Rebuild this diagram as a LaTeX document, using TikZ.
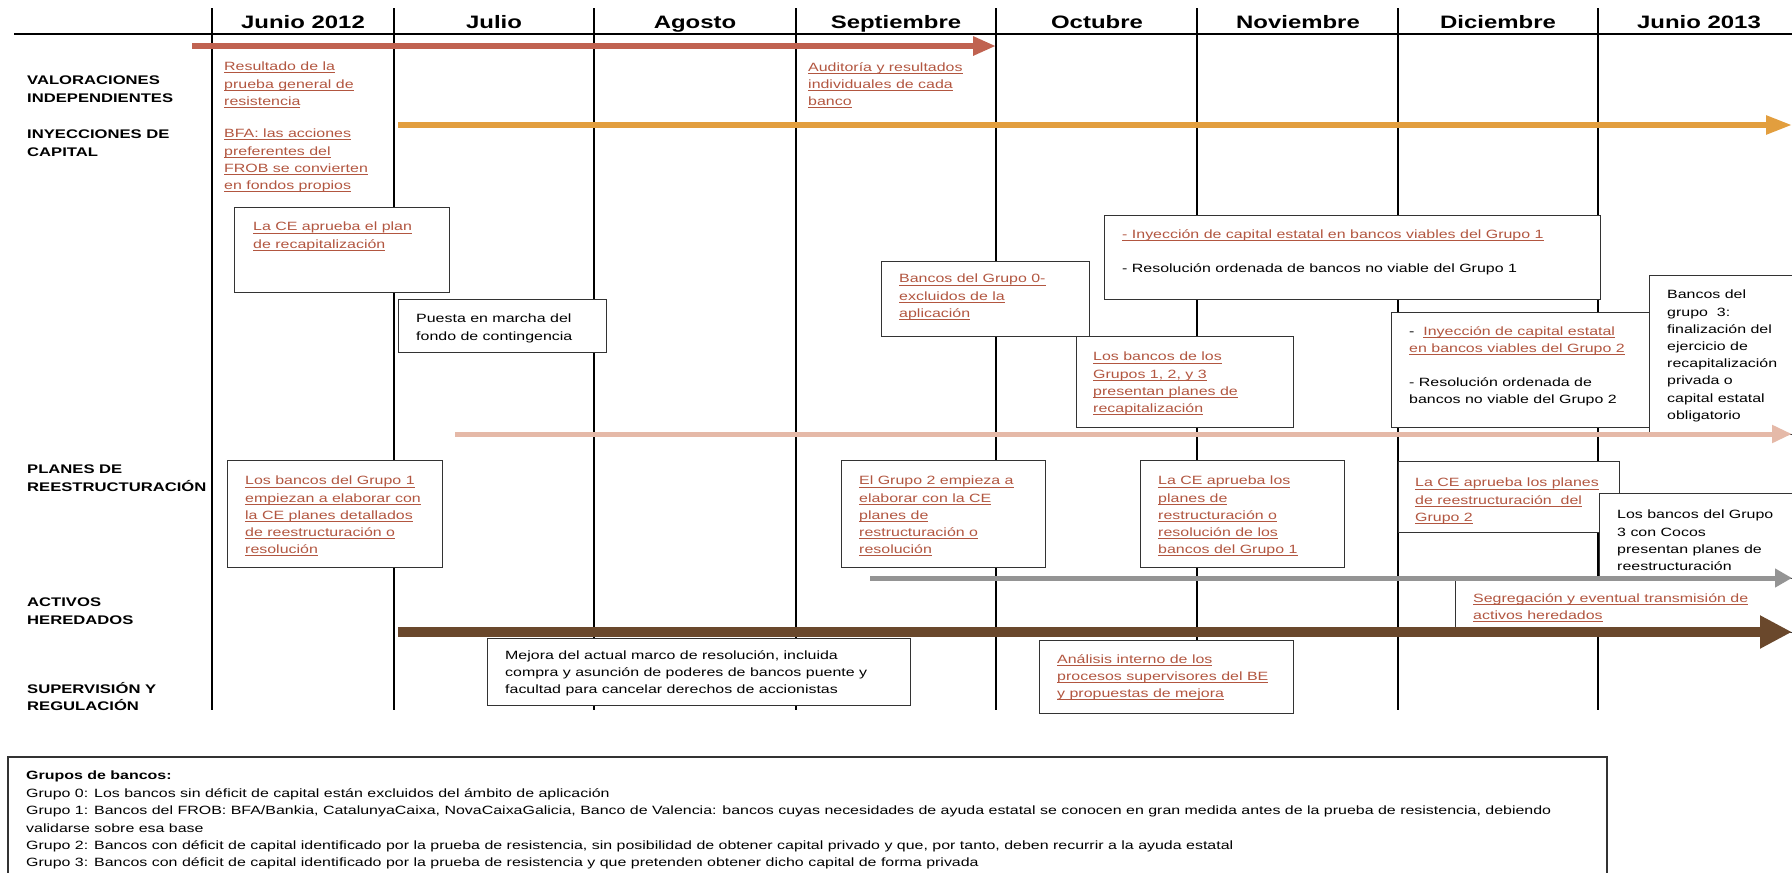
\documentclass[tikz,border=0pt]{standalone}
\usepackage{fontspec}
\setmainfont{Liberation Sans}[FakeStretch=1.33]
\usepackage{xcolor}
\usetikzlibrary{positioning, arrows.meta}
\definecolor{tlred}{RGB}{192, 98, 80}
\definecolor{tlorange}{RGB}{226, 158, 62}
\definecolor{tlpink}{RGB}{229, 185, 168}
\definecolor{tlgray}{RGB}{148, 148, 148}
\definecolor{tlbrown}{RGB}{106, 72, 44}
\definecolor{linkred}{RGB}{178, 86, 64}
\newsavebox{\lnkbox}
\newcommand{\lnk}[1]{{\color{linkred}\sbox{\lnkbox}{#1}\rlap{\rule[-2.4pt]{\wd\lnkbox}{0.8pt}}\usebox{\lnkbox}}}
\tikzset{
    gridline/.style={draw=black, line width=1.2pt},
    evbox/.style={draw=black!80, line width=1.3pt, fill=white, inner sep=0pt, anchor=north west},
    evtext/.style={inner sep=0pt, anchor=north west, align=left, yshift=-5pt, font=\fontsize{12}{17.2}\selectfont, execute at begin node=\strut},
    rowlabel/.style={evtext, font=\bfseries\fontsize{12.5}{17.5}\selectfont},
    month/.style={anchor=base, inner sep=0pt, font=\bfseries\fontsize{18}{20}\selectfont},
    valarrow/.style={tlred, line width=6pt, -{Triangle[length=23pt, width=18pt]}},
    capitalarrow/.style={tlorange, line width=5.5pt, -{Triangle[length=26pt, width=18pt]}},
    planarrow/.style={tlpink, line width=5pt, -{Triangle[length=20pt, width=17pt]}},
    activoarrow/.style={tlgray, line width=5pt, -{Triangle[length=17pt, width=18pt]}},
    supervarrow/.style={tlbrown, line width=10pt, -{Triangle[length=32pt, width=31pt]}}
}
\begin{document}
\begin{tikzpicture}[x=1pt, y=-1pt]
\useasboundingbox (0,0) rectangle (1792,873);
% header and month columns
\coordinate (headL) at (14,34);
\coordinate (headR) at (1792,34);
\draw[gridline, line width=1.5pt] (headL) -- (headR);
\foreach \lx in {212,394,594,796,996,1197,1398,1598}
    \draw[gridline] (\lx,8) -- (\lx,710);
\foreach \cx/\mname in {303/Junio 2012, 494/Julio, 695/Agosto, 896/Septiembre, 1097/Octubre, 1298/Noviembre, 1498/Diciembre, 1699/Junio 2013}
    \node[month] (m\cx) at (\cx,28) {\mname};

% row labels
\node[rowlabel] (valor) at (27,71) {VALORACIONES\\INDEPENDIENTES};
\node[rowlabel] (inyec) at (27,125) {INYECCIONES DE\\CAPITAL};
\node[rowlabel] (planes) at (27,460) {PLANES DE\\REESTRUCTURACIÓN};
\node[rowlabel] (activos) at (27,593) {ACTIVOS\\HEREDADOS};
\node[rowlabel] (superv) at (27,677) {SUPERVISIÓN Y\\REGULACIÓN};

% free texts
\node[evtext] (resul) at (224,57) {\lnk{Resultado de la}\\\lnk{prueba general de}\\\lnk{resistencia}};
\node[evtext] (bfa) at (224,124) {\lnk{BFA: las acciones}\\\lnk{preferentes del}\\\lnk{FROB se convierten}\\\lnk{en fondos propios}};
\node[evtext] (audit) at (808,57) {\lnk{Auditoría y resultados}\\\lnk{individuales de cada}\\\lnk{banco}};

% boxes
\node[evbox, minimum width=215pt, minimum height=85pt] (planCE) at (234,207) {};
\node[evtext, below right=10pt and 19pt of planCE.north west] (planCEtxt) {\lnk{La CE aprueba el plan}\\\lnk{de recapitalización}};

\node[evbox, minimum width=208pt, minimum height=53pt] (fondo) at (398,299) {};
\node[evtext, below right=10pt and 18pt of fondo.north west] (fondotxt) {Puesta en marcha del\\fondo de contingencia};

\node[evbox, minimum width=208pt, minimum height=75pt] (grupo0) at (881,261) {};
\node[evtext, below right=8pt and 18pt of grupo0.north west] (grupo0txt) {\lnk{Bancos del Grupo 0-}\\\lnk{excluidos de la}\\\lnk{aplicación}};

\node[evbox, minimum width=496pt, minimum height=84pt] (inyec1) at (1104,215) {};
\node[evtext, below right=9pt and 18pt of inyec1.north west] (inyec1txt) {\lnk{- Inyección de capital estatal en bancos viables del Grupo 1}\\[17.2pt]- Resolución ordenada de bancos no viable del Grupo 1};

\node[evbox, minimum width=217pt, minimum height=91pt] (recap) at (1076,336) {};
\node[evtext, below right=11pt and 17pt of recap.north west] (recaptxt) {\lnk{Los bancos de los}\\\lnk{Grupos 1, 2, y 3}\\\lnk{presentan planes de}\\\lnk{recapitalización}};

\node[evbox, minimum width=258pt, minimum height=115pt] (inyec2) at (1391,312) {};
\node[evtext, below right=9pt and 18pt of inyec2.north west] (inyec2txt) {-\ \ \lnk{Inyección de capital estatal}\\\lnk{en bancos viables del Grupo 2}\\[17.2pt]- Resolución ordenada de\\bancos no viable del Grupo 2};

\node[evbox, minimum width=160pt, minimum height=159pt] (grupo3fin) at (1649,275) {};
\node[evtext, below right=10pt and 18pt of grupo3fin.north west] (grupo3fintxt) {Bancos del\\grupo\ \ 3:\\finalización del\\ejercicio de\\recapitalización\\privada o\\capital estatal\\obligatorio};

\node[evbox, minimum width=215pt, minimum height=107pt] (elab1) at (227,460) {};
\node[evtext, below right=11pt and 18pt of elab1.north west] (elab1txt) {\lnk{Los bancos del Grupo 1}\\\lnk{empiezan a elaborar con}\\\lnk{la CE planes detallados}\\\lnk{de reestructuración o}\\\lnk{resolución}};

\node[evbox, minimum width=204pt, minimum height=107pt] (elab2) at (841,460) {};
\node[evtext, below right=11pt and 18pt of elab2.north west] (elab2txt) {\lnk{El Grupo 2 empieza a}\\\lnk{elaborar con la CE}\\\lnk{planes de}\\\lnk{restructuración o}\\\lnk{resolución}};

\node[evbox, minimum width=204pt, minimum height=107pt] (aprueba1) at (1140,460) {};
\node[evtext, below right=11pt and 18pt of aprueba1.north west] (aprueba1txt) {\lnk{La CE aprueba los}\\\lnk{planes de}\\\lnk{restructuración o}\\\lnk{resolución de los}\\\lnk{bancos del Grupo 1}};

\node[evbox, minimum width=221pt, minimum height=71pt] (aprueba2) at (1398,461) {};
\node[evtext, below right=12pt and 17pt of aprueba2.north west] (aprueba2txt) {\lnk{La CE aprueba los planes}\\\lnk{de reestructuración\ \ del}\\\lnk{Grupo 2}};

\node[evbox, minimum width=210pt, minimum height=85pt] (cocos) at (1599,493) {};
\node[evtext, below right=12pt and 18pt of cocos.north west] (cocostxt) {Los bancos del Grupo\\3 con Cocos\\presentan planes de\\reestructuración};

\node[evbox, minimum width=360pt, minimum height=54pt] (segreg) at (1455,578) {};
\node[evtext, below right=10pt and 18pt of segreg.north west] (segregtxt) {\lnk{Segregación y eventual transmisión de}\\\lnk{activos heredados}};

\node[evbox, minimum width=423pt, minimum height=67pt] (mejora) at (487,638) {};
\node[evtext, below right=7pt and 18pt of mejora.north west] (mejoratxt) {Mejora del actual marco de resolución, incluida\\compra y asunción de poderes de bancos puente y\\facultad para cancelar derechos de accionistas};

\node[evbox, minimum width=254pt, minimum height=73pt] (analisis) at (1039,640) {};
\node[evtext, below right=9pt and 18pt of analisis.north west] (analisistxt) {\lnk{Análisis interno de los}\\\lnk{procesos supervisores del BE}\\\lnk{y propuestas de mejora}};

% timeline arrows
\coordinate (valS) at (192,46);
\coordinate (valE) at (996,46);
\coordinate (capS) at (398,125);
\coordinate (capE) at (1792,125);
\coordinate (planS) at (455,434);
\coordinate (planE) at (1792,434);
\coordinate (actS) at (870,578);
\coordinate (actE) at (1792,578);
\coordinate (supS) at (398,632);
\coordinate (supE) at (1792,632);
\draw[valarrow] (valS) -- (valE);
\draw[capitalarrow] (capS) -- (capE);
\draw[planarrow] (planS) -- (planE);
\draw[activoarrow] (actS) -- (actE);
\draw[supervarrow] (supS) -- (supE);

% legend
\node[evbox, line width=1.5pt, minimum width=1599pt, minimum height=150pt] (legend) at (7,756) {};
\node[evtext, font=\fontsize{12}{17.4}\selectfont, below right=10pt and 19pt of legend.north west] (legendtxt) {\textbf{Grupos de bancos:}\\
Grupo 0: Los bancos sin déficit de capital están excluidos del ámbito de aplicación\\
Grupo 1: Bancos del FROB: BFA/Bankia, CatalunyaCaixa, NovaCaixaGalicia, Banco de Valencia: bancos cuyas necesidades de ayuda estatal se conocen en gran medida antes de la prueba de resistencia, debiendo\\
validarse sobre esa base\\
Grupo 2: Bancos con déficit de capital identificado por la prueba de resistencia, sin posibilidad de obtener capital privado y que, por tanto, deben recurrir a la ayuda estatal\\
Grupo 3: Bancos con déficit de capital identificado por la prueba de resistencia y que pretenden obtener dicho capital de forma privada};
\end{tikzpicture}
\end{document}
